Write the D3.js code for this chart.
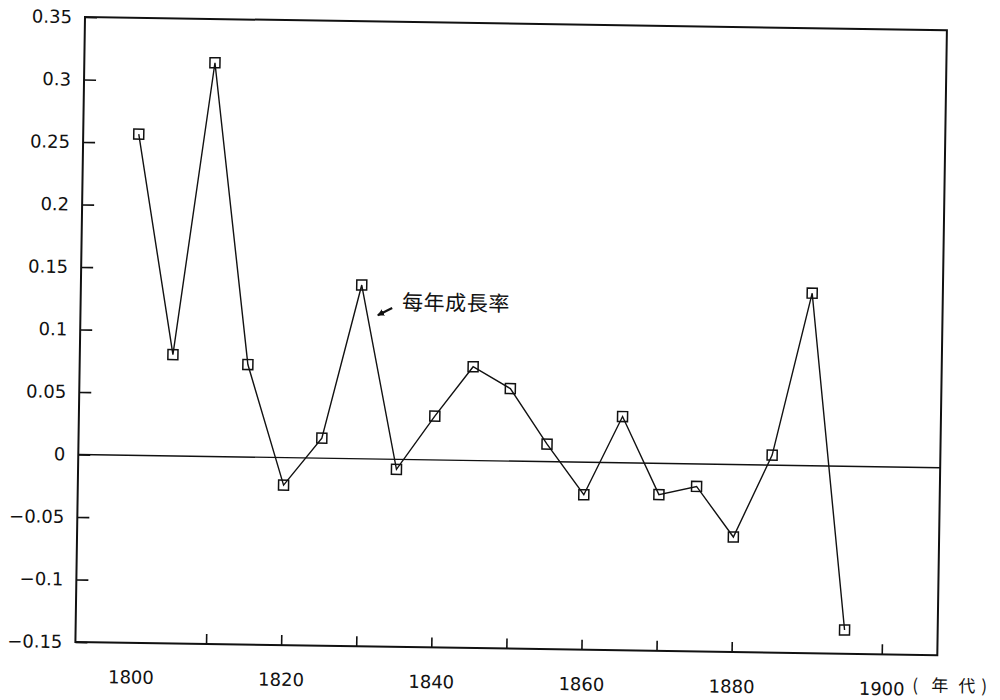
<!DOCTYPE html>
<html>
<head>
<meta charset="utf-8">
<script src="https://cdn.jsdelivr.net/npm/d3@7/dist/d3.min.js"></script>
<style>
  html, body { margin: 0; padding: 0; background: #fff; }
  svg { display: block; }
  .num { font-family: "DejaVu Sans", sans-serif; font-size: 18px; fill: #111; }
  .cjk { font-family: "Noto Sans CJK TC", "Noto Sans CJK SC", sans-serif; fill: #111; }
</style>
</head>
<body>
<svg id="chart" width="1000" height="700"></svg>
<script>
// Annual growth rate, 1800–1895, one value every five years
const years = [1800, 1805, 1810, 1815, 1820, 1825, 1830, 1835, 1840, 1845,
               1850, 1855, 1860, 1865, 1870, 1875, 1880, 1885, 1890, 1895];
const growth = [0.257, 0.081, 0.315, 0.074, -0.022, 0.016, 0.139, -0.008, 0.035, 0.075,
                0.058, 0.014, -0.026, 0.037, -0.025, -0.018, -0.058, 0.008, 0.138, -0.131];

// Axis ticks and labels
const yTickValues = [0.35, 0.3, 0.25, 0.2, 0.15, 0.1, 0.05, 0, -0.05, -0.1, -0.15];
const xTickYears = [1810, 1820, 1830, 1840, 1850, 1860, 1870, 1880, 1900];
const xLabelYears = [1800, 1820, 1840, 1860, 1880, 1900];
const xUnitParts = ["(", "年", "代", ")"];
const seriesLabel = "每年成長率";

const W = 862, H = 625;
const svg = d3.select("#chart");
const g = svg.append("g").attr("transform", "translate(85,17) rotate(0.88)");

const x = d3.scaleLinear().domain([1792.6, 1907.4]).range([0, W]);
const y = d3.scaleLinear().domain([-0.15, 0.35]).range([H, 0]);

const fmt = v => (v < 0 ? "\u2212" : "") + String(Math.abs(+v.toFixed(2)));

// Left axis: inward ticks, labels outside
const yAxis = g.append("g")
  .call(d3.axisLeft(y).tickValues(yTickValues).tickSize(-12).tickPadding(13).tickFormat(fmt));
yAxis.select(".domain").remove();
yAxis.selectAll("line").attr("stroke", "#111").attr("stroke-width", 1.6);
yAxis.selectAll("text").attr("class", "num").attr("font-size", null).attr("font-family", null);

// Bottom axis: inward ticks
const xTicks = g.append("g").attr("transform", `translate(0,${H})`)
  .call(d3.axisBottom(x).tickValues(xTickYears).tickSize(-10).tickFormat(""));
xTicks.select(".domain").remove();
xTicks.selectAll("line").attr("stroke", "#111").attr("stroke-width", 1.6);

// Bottom axis labels
const xLabels = g.append("g").attr("transform", `translate(0,${H})`)
  .call(d3.axisBottom(x).tickValues(xLabelYears).tickSize(0).tickPadding(28).tickFormat(d3.format("d")));
xLabels.select(".domain").remove();
xLabels.selectAll("text").attr("class", "num").attr("font-size", null).attr("font-family", null);

// Unit after the last year label, widely spaced
const unitOffsets = [31, 50, 77, 100];
g.append("g")
  .selectAll("text")
  .data(xUnitParts)
  .join("text")
  .attr("class", "cjk")
  .attr("x", (d, i) => x(1900) + unitOffsets[i])
  .attr("y", H + 29)
  .attr("dominant-baseline", "central")
  .attr("font-size", 17)
  .text(d => d);

// Frame
g.append("rect")
  .attr("x", 0).attr("y", 0).attr("width", W).attr("height", H)
  .attr("fill", "none").attr("stroke", "#111").attr("stroke-width", 2);

// Zero line
g.append("line")
  .attr("x1", 0).attr("x2", W)
  .attr("y1", y(0)).attr("y2", y(0))
  .attr("stroke", "#111").attr("stroke-width", 1.4);

const pts = years.map((yr, i) => ({ yr, v: growth[i] }));

// Series line
g.append("path")
  .datum(pts)
  .attr("fill", "none")
  .attr("stroke", "#111")
  .attr("stroke-width", 1.4)
  .attr("d", d3.line().x(d => x(d.yr)).y(d => y(d.v)));

// Open square markers
const S = 10;
g.selectAll("rect.mk")
  .data(pts)
  .join("rect")
  .attr("class", "mk")
  .attr("x", d => x(d.yr) - S / 2)
  .attr("y", d => y(d.v) - S / 2)
  .attr("width", S).attr("height", S)
  .attr("fill", "none")
  .attr("stroke", "#111")
  .attr("stroke-width", 1.5);

// Series annotation with a small arrow
svg.append("defs").append("marker")
  .attr("id", "head")
  .attr("viewBox", "0 0 10 10")
  .attr("refX", 9).attr("refY", 5)
  .attr("markerWidth", 3.2).attr("markerHeight", 3.2)
  .attr("orient", "auto")
  .append("path").attr("d", "M0,0 L10,5 L0,10 z").attr("fill", "#111");

g.append("line")
  .attr("x1", x(1834.1)).attr("y1", y(0.121))
  .attr("x2", x(1832.2)).attr("y2", y(0.115))
  .attr("stroke", "#111").attr("stroke-width", 2.2)
  .attr("marker-end", "url(#head)");

g.append("text")
  .attr("class", "cjk")
  .attr("x", x(1835.4))
  .attr("y", y(0.127))
  .attr("dominant-baseline", "central")
  .attr("font-size", 21)
  .attr("letter-spacing", 0.6)
  .text(seriesLabel);
</script>
</body>
</html>
